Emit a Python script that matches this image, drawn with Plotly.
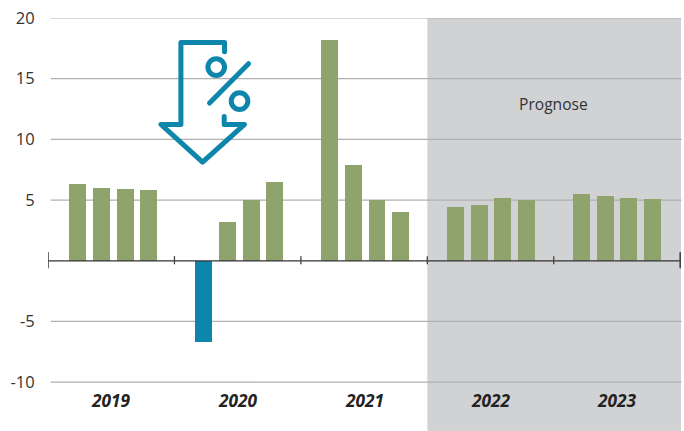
import plotly.graph_objects as go

years = ["2019", "2020", "2021", "2022", "2023"]
values = {
    "2019": [6.3, 6.0, 5.9, 5.8],
    "2020": [-6.7, 3.2, 5.0, 6.5],
    "2021": [18.2, 7.9, 5.0, 4.0],
    "2022": [4.4, 4.6, 5.2, 5.0],
    "2023": [5.5, 5.3, 5.2, 5.1],
}
y_ticks = [-10, -5, 0, 5, 10, 15, 20]
y_labels = ["-10", "-5", "", "5", "10", "15", "20"]
forecast_start = 3
forecast_label = "Prognose"

GREEN, BLUE, GREY = "#8FA46D", "#0E86AB", "#D1D2D4"
W, H = 684, 431
L, R, T = 47.7, 3, 18.3
PW, PH = W - L - R, H - T
XMAX = PW / 126.5

xs, ys, colors = [], [], []
for i, yr in enumerate(years):
    for q, v in enumerate(values[yr]):
        xs.append(i * 0.99605 + 0.2356 + 0.1872 * q)
        ys.append(v)
        colors.append(BLUE if v < 0 else GREEN)

fig = go.Figure(go.Bar(x=xs, y=ys, width=0.134, marker=dict(color=colors, line_width=0), hoverinfo="skip"))

def px(x):
    return (x - L) / PW
def py(y):
    return 1 - (y - T) / PH

shapes = [dict(type="rect", layer="below", xref="x", yref="paper", x0=forecast_start, x1=XMAX, y0=0, y1=1,
               fillcolor=GREY, line_width=0)]
for t in y_ticks:
    if t != 0:
        shapes.append(dict(type="line", layer="below", xref="paper", yref="y", x0=px(51), x1=1, y0=t, y1=t,
                           line=dict(color="#B0B0B0", width=1.2)))
shapes.append(dict(type="line", layer="above", xref="x", yref="y", x0=0, x1=5, y0=0, y1=0,
                   line=dict(color="#333333", width=1.3)))
for i in range(len(years) + 1):
    end = i in (0, len(years))
    h = 7.5 if end else 3.5
    shapes.append(dict(type="line", layer="above", xref="x", yref="paper", x0=i, x1=i,
                       y0=py(260.4 + h), y1=py(260.4 - h),
                       line=dict(color="#444444", width=1.6 if end else 1.3)))

# decorative icon, in pixel positions
ICON = "#0E86AB"
def Z(a, b):
    return (140 + a / 3, 20 + b / 3)
def path(pts):
    return "M " + " L ".join(f"{px(Z(a, b)[0]):.5f},{py(Z(a, b)[1]):.5f}" for a, b in pts)
arrow = [(253, 96), (253, 68), (122, 68), (122, 314), (62, 314), (187, 427), (313, 314), (252, 314), (252, 290)]
slash = [(208, 250), (325, 132)]
for p in (arrow, slash):
    shapes.append(dict(type="path", layer="above", xref="paper", yref="paper", path=path(p),
                       line=dict(color=ICON, width=5)))
for cx, cy in [(228, 142), (298, 244)]:
    shapes.append(dict(type="circle", layer="above", xref="paper", yref="paper",
                       x0=px(Z(cx - 25, cy)[0]), x1=px(Z(cx + 25, cy)[0]),
                       y0=py(Z(cx, cy + 25)[1]), y1=py(Z(cx, cy - 25)[1]),
                       line=dict(color=ICON, width=5)))

annotations = [dict(xref="x", yref="paper", x=i + 0.5, y=py(401), yanchor="middle", text=f"<b><i>{yr}</i></b>",
                    showarrow=False, font=dict(size=17.3, color="#222222", family="Open Sans"))
               for i, yr in enumerate(years)]
annotations.append(dict(xref="x", yref="y", x=forecast_start + 1.0, y=12.9, text=forecast_label,
                        showarrow=False, font=dict(size=15.6, color="#333333", family="Open Sans")))

fig.update_layout(
    width=W, height=H, autosize=False, bargap=0,
    margin=dict(l=L, r=R, t=T, b=0),
    paper_bgcolor="white", plot_bgcolor="rgba(0,0,0,0)", showlegend=False,
    font=dict(family="Open Sans", color="#333333"),
    xaxis=dict(range=[0, XMAX], showgrid=False, zeroline=False, showticklabels=False, ticks="", fixedrange=True),
    yaxis=dict(range=[20 - PH / 12.13, 20], tickvals=y_ticks, ticktext=y_labels, showgrid=False, zeroline=False,
               ticks="outside", ticklen=9, tickcolor="rgba(0,0,0,0)", tickfont=dict(size=16.5, color="#333333"),
               fixedrange=True),
    shapes=shapes, annotations=annotations,
)
fig.write_html("out.html", config={"displayModeBar": False}, post_script=
    "document.body.style.margin='0';"
    "var s=document.createElement('style');"
    "s.textContent='.shapelayer path{stroke-linecap:round;stroke-linejoin:round}';"
    "document.head.appendChild(s);")
